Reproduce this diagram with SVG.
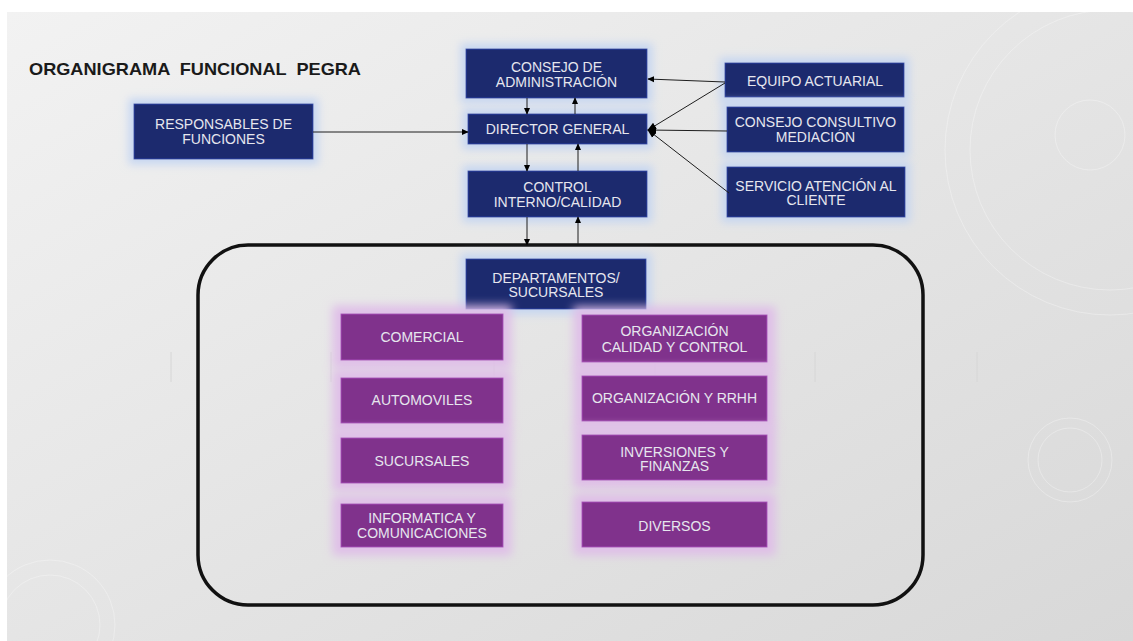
<svg xmlns="http://www.w3.org/2000/svg" width="1133" height="641" viewBox="0 0 1133 641">
<style>
.nb{fill:#1c2a6e;stroke:#2d43a8;stroke-width:1}
.pb{fill:#80308c;stroke:#a648b8;stroke-width:1}
.t{font-family:"Liberation Sans",Arial,sans-serif;font-size:14px;fill:#e6e6ee;text-anchor:middle}
.title{font-family:"Liberation Sans",Arial,sans-serif;font-size:17px;font-weight:bold;fill:#1a1a1a;white-space:pre}
.c{stroke:#1e1e1e;stroke-width:1;fill:none}
.deco{fill:none;stroke:#ffffff;stroke-opacity:0.3;stroke-width:1}
</style>
<defs>
<linearGradient id="bg" x1="0" y1="0" x2="1" y2="1">
<stop offset="0" stop-color="#f2f2f2"/>
<stop offset="1" stop-color="#d8d8d8"/>
</linearGradient>
<filter id="glowB" x="-20%" y="-50%" width="140%" height="200%">
<feMorphology in="SourceAlpha" operator="dilate" radius="5" result="d"/>
<feGaussianBlur in="d" stdDeviation="4.5" result="b"/>
<feFlood flood-color="#c2d4f2" flood-opacity="0.9"/>
<feComposite in2="b" operator="in" result="g"/>
<feMerge><feMergeNode in="g"/><feMergeNode in="SourceGraphic"/></feMerge>
</filter>
<filter id="glowP" x="-20%" y="-60%" width="140%" height="220%">
<feMorphology in="SourceAlpha" operator="dilate" radius="8" result="d"/>
<feGaussianBlur in="d" stdDeviation="5" result="b"/>
<feFlood flood-color="#dfbde8" flood-opacity="0.95"/>
<feComposite in2="b" operator="in" result="g"/>
<feMerge><feMergeNode in="g"/><feMergeNode in="SourceGraphic"/></feMerge>
</filter>
<marker id="ah" viewBox="0 0 10 10" refX="9" refY="5" markerWidth="7" markerHeight="7" orient="auto" markerUnits="userSpaceOnUse">
<path d="M0,0.5 L10,5 L0,9.5 z" fill="#000"/>
</marker>
<marker id="ahb" viewBox="0 0 10 10" refX="9" refY="5" markerWidth="9" markerHeight="9" orient="auto" markerUnits="userSpaceOnUse">
<path d="M0,1 L10,5 L0,9 z" fill="#000"/>
</marker>
</defs>

<rect x="0" y="0" width="1133" height="641" fill="#ffffff"/>
<rect x="7" y="12" width="1126" height="629" fill="url(#bg)"/>

<g id="background-decor">
<circle class="deco" cx="1110" cy="150" r="140"/>
<circle class="deco" cx="1110" cy="150" r="165" stroke-opacity="0.2"/>
<circle class="deco" cx="1090" cy="135" r="35"/>
<circle class="deco" cx="1070" cy="460" r="32"/>
<circle class="deco" cx="1070" cy="460" r="42" stroke-opacity="0.2"/>
<circle class="deco" cx="50" cy="625" r="50"/>
<circle class="deco" cx="50" cy="625" r="65" stroke-opacity="0.2"/>
<g stroke="#d6d6d6" stroke-width="1">
<line x1="171" y1="352" x2="171" y2="382"/>
<line x1="331" y1="352" x2="331" y2="382"/>
<line x1="494" y1="352" x2="494" y2="382"/>
<line x1="655" y1="352" x2="655" y2="382"/>
<line x1="815" y1="352" x2="815" y2="382"/>
<line x1="977" y1="352" x2="977" y2="382"/>
</g>
</g>

<text class="title" x="29" y="75" textLength="332" lengthAdjust="spacingAndGlyphs" xml:space="preserve">ORGANIGRAMA  FUNCIONAL  PEGRA</text>

<g id="container">
<rect x="198" y="245" width="725" height="360" rx="50" ry="50" fill="none" stroke="#111" stroke-width="3.5"/>
</g>

<g id="consejo-administracion">
<rect class="nb" x="466" y="49" width="181" height="49" filter="url(#glowB)"/>
<text class="t" x="556.5" y="72">CONSEJO DE</text>
<text class="t" x="556.5" y="87">ADMINISTRACIÓN</text>
</g>
<g id="director-general">
<rect class="nb" x="468" y="114" width="179" height="30" filter="url(#glowB)"/>
<text class="t" x="557.5" y="134">DIRECTOR GENERAL</text>
</g>
<g id="control-interno">
<rect class="nb" x="468" y="171" width="179" height="46" filter="url(#glowB)"/>
<text class="t" x="557.5" y="192">CONTROL</text>
<text class="t" x="557.5" y="207">INTERNO/CALIDAD</text>
</g>
<g id="responsables">
<rect class="nb" x="134" y="104" width="179" height="55" filter="url(#glowB)"/>
<text class="t" x="223.5" y="129">RESPONSABLES DE</text>
<text class="t" x="223.5" y="144">FUNCIONES</text>
</g>
<g id="equipo-actuarial">
<rect class="nb" x="725" y="63" width="179" height="34" filter="url(#glowB)"/>
<text class="t" x="815" y="86">EQUIPO ACTUARIAL</text>
</g>
<g id="consejo-consultivo">
<rect class="nb" x="727" y="107" width="177" height="45" filter="url(#glowB)"/>
<text class="t" x="815.5" y="127">CONSEJO CONSULTIVO</text>
<text class="t" x="815.5" y="142">MEDIACIÓN</text>
</g>
<g id="servicio-atencion">
<rect class="nb" x="727" y="167" width="178" height="50" filter="url(#glowB)"/>
<text class="t" x="816" y="191">SERVICIO ATENCIÓN AL</text>
<text class="t" x="816" y="205">CLIENTE</text>
</g>
<g id="departamentos">
<rect class="nb" x="466" y="259" width="180" height="50" filter="url(#glowB)"/>
<text class="t" x="556" y="283">DEPARTAMENTOS/</text>
<text class="t" x="556" y="297">SUCURSALES</text>
</g>

<g id="comercial">
<rect class="pb" x="341" y="314" width="162" height="46" filter="url(#glowP)"/>
<text class="t" x="422" y="342">COMERCIAL</text>
</g>
<g id="automoviles">
<rect class="pb" x="341" y="378" width="162" height="45" filter="url(#glowP)"/>
<text class="t" x="422" y="405">AUTOMOVILES</text>
</g>
<g id="sucursales">
<rect class="pb" x="341" y="438" width="162" height="45" filter="url(#glowP)"/>
<text class="t" x="422" y="466">SUCURSALES</text>
</g>
<g id="informatica">
<rect class="pb" x="341" y="504" width="162" height="43" filter="url(#glowP)"/>
<text class="t" x="422" y="523">INFORMATICA Y</text>
<text class="t" x="422" y="538">COMUNICACIONES</text>
</g>
<g id="org-calidad">
<rect class="pb" x="582" y="315" width="185" height="47" filter="url(#glowP)"/>
<text class="t" x="674.5" y="336">ORGANIZACIÓN</text>
<text class="t" x="674.5" y="352">CALIDAD Y CONTROL</text>
</g>
<g id="org-rrhh">
<rect class="pb" x="582" y="376" width="185" height="45" filter="url(#glowP)"/>
<text class="t" x="674.5" y="403">ORGANIZACIÓN Y RRHH</text>
</g>
<g id="inversiones">
<rect class="pb" x="582" y="435" width="185" height="45" filter="url(#glowP)"/>
<text class="t" x="674.5" y="457">INVERSIONES Y</text>
<text class="t" x="674.5" y="471">FINANZAS</text>
</g>
<g id="diversos">
<rect class="pb" x="582" y="502" width="185" height="45" filter="url(#glowP)"/>
<text class="t" x="674.5" y="531">DIVERSOS</text>
</g>

<g id="connectors">
<line class="c" x1="527" y1="98" x2="527" y2="114" marker-end="url(#ah)"/>
<line class="c" x1="575" y1="114" x2="575" y2="98" marker-end="url(#ah)"/>
<line class="c" x1="527" y1="144" x2="527" y2="171" marker-end="url(#ah)"/>
<line class="c" x1="578" y1="171" x2="578" y2="144" marker-end="url(#ah)"/>
<line class="c" x1="527" y1="217" x2="527" y2="245" marker-end="url(#ah)"/>
<line class="c" x1="578" y1="244" x2="578" y2="217" marker-end="url(#ah)"/>
<line class="c" x1="313" y1="132" x2="468" y2="132" marker-end="url(#ah)"/>
<line class="c" x1="725" y1="82" x2="648" y2="79" marker-end="url(#ah)"/>
<line class="c" x1="725" y1="83" x2="648" y2="130" marker-end="url(#ahb)"/>
<line class="c" x1="727" y1="131" x2="648" y2="130" marker-end="url(#ahb)"/>
<line class="c" x1="729" y1="193" x2="648" y2="130" marker-end="url(#ahb)"/>
</g>
</svg>
